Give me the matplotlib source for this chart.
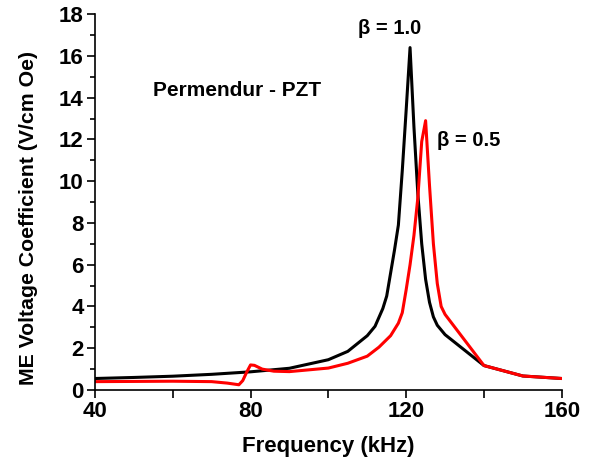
import matplotlib.pyplot as plt
from matplotlib.ticker import MultipleLocator, FuncFormatter

plt.rcParams['font.family'] = ['Liberation Sans', 'DejaVu Sans']
plt.rcParams['font.weight'] = 'bold'

# beta = 1.0 (black)
freq_b1 = [40, 50, 60, 70, 80, 90, 100, 105, 110, 112, 114, 115, 116, 117, 118,
           119, 120, 121, 122, 123, 124, 125, 126, 127, 128, 130, 140, 150, 160]
me_b1 = [0.55, 0.60, 0.66, 0.75, 0.87, 1.04, 1.45, 1.85, 2.6, 3.05, 3.9, 4.5, 5.6, 6.7, 7.9,
         10.5, 13.4, 16.4, 12.6, 9.4, 7.0, 5.3, 4.2, 3.5, 3.1, 2.65, 1.17, 0.67, 0.55]

# beta = 0.5 (red)
freq_b05 = [40, 50, 60, 70, 74, 77, 78, 79, 80, 81, 83, 86, 90, 100, 105, 110, 113, 116,
            118, 119, 120, 121, 122, 123, 124, 125, 126, 127, 128, 129, 130, 140, 150, 160]
me_b05 = [0.40, 0.41, 0.42, 0.40, 0.33, 0.25, 0.45, 0.85, 1.2, 1.18, 1.0, 0.9, 0.88, 1.05, 1.28,
          1.62, 2.05, 2.6, 3.2, 3.7, 4.8, 6.0, 7.4, 9.2, 11.9, 12.9, 9.8, 7.0, 5.1, 4.0, 3.62,
          1.17, 0.67, 0.55]

fig = plt.figure(figsize=(5.97, 4.68), dpi=100)
ax = fig.add_axes([0.159, 0.1667, 0.782, 0.803])

ax.plot(freq_b1, me_b1, color='black', lw=2.2)
ax.plot(freq_b05, me_b05, color='red', lw=2.2)

ax.set_xlim(40, 160)
ax.set_ylim(0, 18)
ax.xaxis.set_major_locator(MultipleLocator(20))
ax.xaxis.set_major_formatter(FuncFormatter(lambda v, p: f"{int(v)}" if int(v) % 40 == 0 else ""))
ax.yaxis.set_major_locator(MultipleLocator(2))
ax.yaxis.set_minor_locator(MultipleLocator(1))
ax.tick_params(axis='both', which='major', direction='out', length=6, width=1.2,
               labelsize=16, pad=2)
ax.tick_params(axis='both', which='minor', direction='out', length=3.6, width=1.2)

ax.spines['top'].set_visible(False)
ax.spines['right'].set_visible(False)
ax.spines['left'].set_linewidth(1.2)
ax.spines['bottom'].set_linewidth(1.2)

ax.set_xlabel("Frequency (kHz)", fontsize=16, fontweight='bold', labelpad=10)
ax.set_ylabel("ME Voltage Coefficient (V/cm Oe)", fontsize=15.3, fontweight='bold')
ax.yaxis.set_label_coords(-0.122, 0.457)

ax.text(54.8, 14.35, "Permendur - PZT", fontsize=15, fontweight='bold', va='center')
ax.text(107.5, 17.3, "β = 1.0", fontsize=14.5, fontweight='bold', va='center')
ax.text(127.9, 11.95, "β = 0.5", fontsize=14.5, fontweight='bold', va='center')

fig.savefig("out.png", dpi=100)
